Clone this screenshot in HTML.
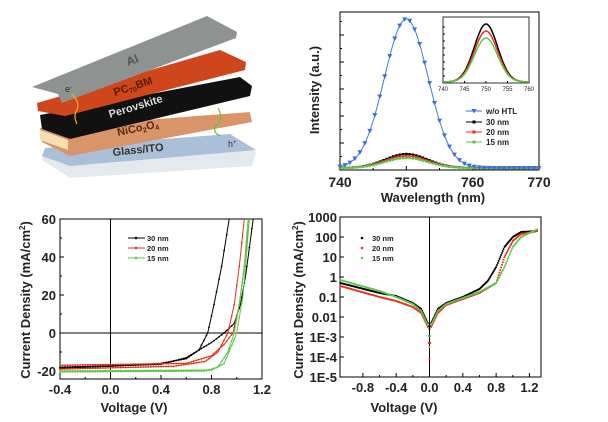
<!DOCTYPE html>
<html><head><meta charset="utf-8"><style>
html,body{margin:0;padding:0;background:#fff;}
svg{display:block;font-family:"Liberation Sans",Arial,sans-serif;}
</style></head><body>
<svg id="s" width="608" height="422" viewBox="0 0 608 422" xmlns="http://www.w3.org/2000/svg">
<g>
<polygon points="45,150 230,136 256,152 252,166 70,178 42,160" fill="#e4e9ee"/>
<polygon points="45,148 230,134 256,150 70,166 42,156" fill="#a9c0d8"/>
<polygon points="40,128 250,112 252,122 70,156 42,142" fill="#d9946a"/>
<polygon points="40,130 68,140 68,150 40,140" fill="#f3e0b0"/>
<polygon points="40,115 240,77 252,86 250,96 70,139 42,129" fill="#111"/>
<polygon points="37,103 220,50 246,62 245,70 65,116 38,111" fill="#d0461c"/>
<polygon points="32,87 207,16 237,32 236,38 62,103 58,94" fill="#8e9392"/>
<text x="0" y="0" font-size="12" font-weight="bold" fill="#555" transform="translate(128,66) rotate(-20)">Al</text>
<text x="0" y="0" font-size="11" font-weight="bold" fill="#5a1a08" transform="translate(115,96) rotate(-18)">PC<tspan font-size="7" dy="2">70</tspan><tspan dy="-2">BM</tspan></text>
<text x="0" y="0" font-size="11" font-weight="bold" fill="#ddd" transform="translate(110,118) rotate(-17)">Perovskite</text>
<text x="0" y="0" font-size="11" font-weight="bold" fill="#5a2a10" transform="translate(118,136) rotate(-12)">NiCo<tspan font-size="7" dy="2">2</tspan><tspan dy="-2">O</tspan><tspan font-size="7" dy="2">4</tspan></text>
<text x="0" y="0" font-size="11" font-weight="bold" fill="#333" transform="translate(113,156) rotate(-6)">Glass/ITO</text>
<text x="65" y="92" font-size="9" fill="#333">e<tspan font-size="6" dy="-3">-</tspan></text>
<text x="228" y="147" font-size="9" fill="#333">h<tspan font-size="6" dy="-3">+</tspan></text>
<path d="M77,124 q-4,-8 0,-14 q3,-8 -5,-16" stroke="#f0b020" stroke-width="1.2" fill="none"/>
<path d="M218,108 q6,10 -2,18 q-4,6 4,10" stroke="#6cbc40" stroke-width="1.2" fill="none"/>
</g>
<g id="g"></g>
</svg>
<script>
var g=document.getElementById('g'),h='';
function T(x,y,t,o){o=o||{};h+='<text x="'+x+'" y="'+y+'" font-size="'+(o.fs||12)+'" font-weight="'+(o.fw||'bold')+'" text-anchor="'+(o.a||'middle')+'"'+(o.tr?' transform="'+o.tr+'"':'')+' fill="'+(o.f||'#222')+'">'+t+'</text>';}
function L(x1,y1,x2,y2,c,w){h+='<line x1="'+x1+'" y1="'+y1+'" x2="'+x2+'" y2="'+y2+'" stroke="'+(c||'#000')+'" stroke-width="'+(w||1)+'"/>';}
function P(pts,c,w){h+='<polyline points="'+pts.map(function(p){return p[0].toFixed(1)+','+p[1].toFixed(1)}).join(' ')+'" fill="none" stroke="'+c+'" stroke-width="'+(w||1)+'"/>';}
function interp(pts,x){for(var i=0;i<pts.length-1;i++){if(x>=pts[i][0]&&x<=pts[i+1][0]){var t=(x-pts[i][0])/(pts[i+1][0]-pts[i][0]);return pts[i][1]+t*(pts[i+1][1]-pts[i][1]);}}return null;}
var X0=340,X1=539,Y0=12,Y1=170;
function px(w){return X0+(w-740)*(X1-X0)/30;}
function gau(w,a,s){return Math.exp(-Math.pow((w-750)/s,2)/2)*a;}
h+='<rect x="'+X0+'" y="'+Y0+'" width="'+(X1-X0)+'" height="'+(Y1-Y0)+'" fill="none" stroke="#000" stroke-width="1"/>';
[740,750,760,770].forEach(function(w){L(px(w),Y1,px(w),Y1-4);T(px(w),Y1+17,w,{fs:14});});
[745,755,765].forEach(function(w){L(px(w),Y1,px(w),Y1-2);});
for(var k=1;k<12;k++)L(X0,Y1-k*13.5,X0+(k%2?2:4),Y1-k*13.5);
T(433,202,'Wavelength (nm)',{fs:13});
T(0,0,'Intensity (a.u.)',{fs:13,tr:'translate(319,90) rotate(-90)'});
var base=168;
[[14,'#000'],[12,'#e8301c'],[10,'#5cc84a']].forEach(function(c){var pts=[];for(var w=740;w<=770;w+=0.25)pts.push([px(w),base-gau(w,c[0],3.2)]);P(pts,c[1],1.2);
for(var w=740;w<=770;w+=0.5){var y=base-gau(w,c[0],3.2);h+='<rect x="'+(px(w)-1.2)+'" y="'+(y-1.2)+'" width="2.4" height="2.4" fill="'+c[1]+'"/>';}});
var bp=[];for(var w=740;w<=770;w+=0.25)bp.push([px(w),base-gau(w,149,3.3)]);P(bp,'#4a78d8',1);
for(var w=740;w<=770;w+=0.75){var y=base-gau(w,149,3.3),x=px(w);h+='<polygon points="'+(x-2.5)+','+(y-2)+' '+(x+2.5)+','+(y-2)+' '+x+','+(y+2.5)+'" fill="#3b6fd8"/>';}
var iX0=443,iX1=529,iY0=17,iY1=83;
function ix(w){return iX0+(w-740)*(iX1-iX0)/20;}
h+='<rect x="'+iX0+'" y="'+iY0+'" width="'+(iX1-iX0)+'" height="'+(iY1-iY0)+'" fill="#fff" stroke="#000" stroke-width="0.8"/>';
[740,745,750,755,760].forEach(function(w){L(ix(w),iY1,ix(w),iY1-2);T(ix(w),iY1+8,w,{fs:6,fw:'normal'});});
for(var k=1;k<9;k++)L(iX0,iY1-k*7,iX0+2,iY1-k*7);
[[58,'#000'],[51,'#e8301c'],[44,'#5cc84a']].forEach(function(c){var pts=[];for(var w=740;w<=760;w+=0.25)pts.push([ix(w),iY1-1-gau(w,c[0],2.7)]);P(pts,c[1],1.5);});
[['w/o HTL','#3b6fd8',111],['30 nm','#000',122],['20 nm','#e8301c',132],['15 nm','#5cc84a',142]].forEach(function(l,i){L(466,l[2],482,l[2],l[1]);
if(i==0)h+='<polygon points="471.5,'+(l[2]-2)+' 476.5,'+(l[2]-2)+' 474,'+(l[2]+2.5)+'" fill="'+l[1]+'"/>';else h+='<rect x="472.5" y="'+(l[2]-1.5)+'" width="3" height="3" fill="'+l[1]+'"/>';
T(486,l[2]+3,l[0],{fs:8,a:'start'});});
var jX0=60,jX1=262,jY0=219,jY1=379;
function jx(v){return jX0+(v+0.4)*(jX1-jX0)/1.6;}
function jy(j){return 333-j*1.9;}
h+='<rect x="'+jX0+'" y="'+jY0+'" width="'+(jX1-jX0)+'" height="'+(jY1-jY0)+'" fill="none" stroke="#000"/>';
L(jx(0),jY0,jx(0),jY1);L(jX0,jy(0),jX1,jy(0));
[-0.4,0,0.4,0.8,1.2].forEach(function(v){L(jx(v),jY1,jx(v),jY1-4);T(jx(v),jY1+15,v==0?'0.0':v,{fs:13});});
[-0.2,0.2,0.6,1.0].forEach(function(v){L(jx(v),jY1,jx(v),jY1-2);});
[60,40,20,0,-20].forEach(function(j){L(jX0,jy(j),jX0+4,jy(j));T(jX0-4,jy(j)+5,j,{fs:13,a:'end'});});
[50,30,10,-10].forEach(function(j){L(jX0,jy(j),jX0+2,jy(j));});
T(134,412,'Voltage (V)',{fs:13});
T(0,0,'Current Density (mA/cm<tspan font-size="8" dy="-5">2</tspan><tspan dy="5">)</tspan>',{fs:13,tr:'translate(30,300) rotate(-90)'});
var cur=[
['#000',[[-0.4,-18.5],[0,-17.5],[0.4,-16],[0.6,-13.5],[0.7,-9],[0.77,0],[0.82,15],[0.88,35],[0.94,60]]],
['#000',[[-0.4,-18],[0.4,-16.5],[0.6,-13],[0.7,-9],[0.8,-5],[0.9,0],[0.98,5],[1.03,15],[1.07,30],[1.1,45],[1.13,60]]],
['#e8301c',[[-0.4,-19],[0.5,-17.5],[0.75,-15],[0.85,-10],[0.93,0],[0.98,15],[1.02,35],[1.06,60]]],
['#e8301c',[[-0.4,-17],[0.6,-16],[0.8,-12],[0.9,-6],[0.97,0],[1.02,15],[1.06,35],[1.1,60]]],
['#5cc84a',[[-0.4,-20.5],[0.75,-20],[0.85,-18],[0.93,-10],[0.98,0],[1.02,15],[1.06,35],[1.09,60]]],
['#5cc84a',[[-0.4,-20],[0.8,-19.5],[0.9,-16],[0.97,-5],[1.0,0],[1.05,20],[1.1,60]]]];
cur.forEach(function(c){P(c[1].map(function(p){return[jx(p[0]),jy(p[1])]}),c[0],1);
for(var v=-0.4;v<=1.13;v+=0.02){var j=interp(c[1],v);if(j!==null)h+='<circle cx="'+jx(v)+'" cy="'+jy(j)+'" r="0.9" fill="'+c[0]+'"/>';}});
[['30 nm','#000',238],['20 nm','#e8301c',248],['15 nm','#5cc84a',258]].forEach(function(l){L(128,l[2],145,l[2],l[1]);h+='<circle cx="136" cy="'+l[2]+'" r="1.3" fill="'+l[1]+'"/>';T(147,l[2]+3,l[0],{fs:7.5,a:'start'});});
var lX0=340,lX1=541,lY0=217,lY1=377;
function lx(v){return 429.5+v*83.3;}
function ly(lg){return lY0+(3-lg)*20;}
h+='<rect x="'+lX0+'" y="'+lY0+'" width="'+(lX1-lX0)+'" height="'+(lY1-lY0)+'" fill="none" stroke="#000"/>';
L(lx(0),lY0,lx(0),lY1);
[-0.8,-0.4,0,0.4,0.8,1.2].forEach(function(v){L(lx(v),lY1,lx(v),lY1-4);T(lx(v),lY1+15,v==0?'0.0':v,{fs:13});});
[-0.6,-0.2,0.2,0.6,1.0].forEach(function(v){L(lx(v),lY1,lx(v),lY1-2);});
['1000','100','10','1','0.1','0.01','1E-3','1E-4','1E-5'].forEach(function(t,i){var y=lY0+i*20;L(lX0,y,lX0+4,y);T(lX0-3,y+5,t,{fs:13,a:'end'});});
T(404,412,'Voltage (V)',{fs:13});
T(0,0,'Current Density (mA/cm<tspan font-size="8" dy="-5">2</tspan><tspan dy="5">)</tspan>',{fs:13,tr:'translate(303,300) rotate(-90)'});
var lc=[
['#000',[[-1.07,-0.3],[-0.6,-0.8],[-0.4,-0.95],[-0.2,-1.3],[-0.1,-1.6],[-0.02,-2.3],[0,-2.6],[0.02,-2.3],[0.1,-1.6],[0.2,-1.3],[0.4,-1],[0.6,-0.6],[0.7,-0.2],[0.8,0.5],[0.9,1.5],[1.0,2.0],[1.1,2.25],[1.3,2.3]]],
['#e8301c',[[-1.07,-0.45],[-0.6,-1.0],[-0.4,-1.2],[-0.2,-1.5],[-0.1,-1.8],[-0.02,-2.5],[0,-4.1],[0.02,-2.5],[0.1,-1.8],[0.2,-1.4],[0.4,-1.1],[0.6,-0.8],[0.8,-0.3],[0.9,1.0],[1.0,1.8],[1.1,2.15],[1.3,2.3]]],
['#5cc84a',[[-1.07,-0.15],[-0.6,-0.7],[-0.4,-1.0],[-0.2,-1.35],[-0.1,-1.7],[-0.02,-2.4],[0,-3.5],[0.02,-2.4],[0.1,-1.7],[0.2,-1.35],[0.4,-1.05],[0.6,-0.75],[0.8,-0.3],[0.9,0.5],[1.0,1.5],[1.1,2.0],[1.3,2.4]]]];
lc.forEach(function(c){for(var v=-1.07;v<=1.3;v+=0.01){var q=interp(c[1],v);if(q!==null)h+='<circle cx="'+lx(v).toFixed(1)+'" cy="'+ly(q).toFixed(1)+'" r="1" fill="'+c[0]+'"/>';}});
[['30 nm','#000',238],['20 nm','#e8301c',248],['15 nm','#5cc84a',258]].forEach(function(l){h+='<circle cx="362" cy="'+l[2]+'" r="1.3" fill="'+l[1]+'"/>';T(372,l[2]+3,l[0],{fs:7.5,a:'start'});});
g.innerHTML=h;
</script>
</body></html>
